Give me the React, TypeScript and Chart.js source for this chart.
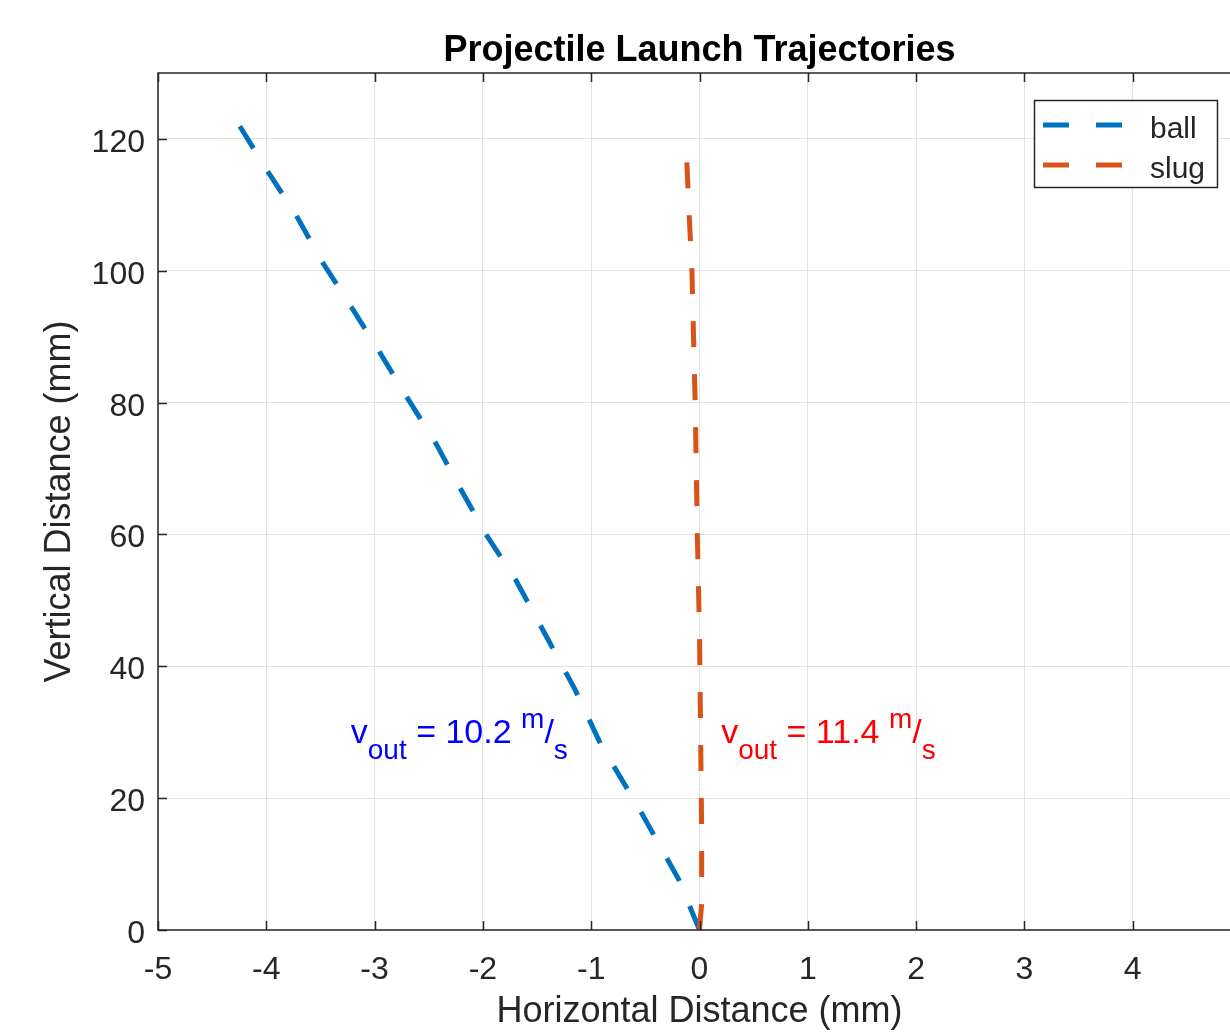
import React, { useEffect, useRef } from 'react';
import { Chart, registerables } from 'chart.js';

Chart.register(...registerables);

// ---- data ----
const ballX = [0, -0.19, -0.55, -0.91, -1.15, -1.40, -1.70, -1.97, -2.23, -2.43, -2.72, -2.97, -3.23, -3.49, -3.73, -4.00, -4.27];
const ballY = [0, 7.6, 18.2, 28.1, 36.5, 44.1, 53.2, 60.0, 67.6, 73.7, 81.3, 88.1, 94.9, 101.5, 108.6, 115.4, 122.6];
const slugX = [0, 0.02, 0.02, 0.01, 0.0, -0.02, -0.04, -0.07, -0.10, -0.12];
const slugY = [0, 4, 15, 30, 45, 60, 80, 100, 110, 117.7];

const seriesNames = ['ball', 'slug'];
const seriesColors = ['#0072BD', '#D95319'];

const xTickValues = [-5, -4, -3, -2, -1, 0, 1, 2, 3, 4, 5];
const yTickValues = [0, 20, 40, 60, 80, 100, 120];

const annotationX = [-3.22, 0.2];
const annotationY = [30, 30];
const annotationSpeed = ['10.2', '11.4'];
const annotationColors = ['#0000FF', '#FF0000'];

const titleText = 'Projectile Launch Trajectories';
const xLabel = 'Horizontal Distance (mm)';
const yLabel = 'Vertical Distance (mm)';

const FONT = '"Liberation Sans", Arial, Helvetica, sans-serif';
const W = 1300;
const H = 1032;
const AX = { left: 158, right: 1241, top: 73, bottom: 930 };
const AXIS_COLOR = '#262626';

function toPoints(xs: number[], ys: number[]) {
  return xs.map((x, i) => ({ x, y: ys[i] }));
}

export default function App() {
  const ref = useRef<HTMLCanvasElement>(null);

  useEffect(() => {
    const canvas = ref.current;
    if (!canvas) return;

    const overlay = {
      id: 'overlay',
      afterDraw(chart: any) {
        const ctx = chart.ctx as CanvasRenderingContext2D;
        const xs = chart.scales.x;
        const ys = chart.scales.y;
        const { left, right, top, bottom } = chart.chartArea;
        ctx.save();

        // tick marks (inward)
        ctx.strokeStyle = AXIS_COLOR;
        ctx.lineWidth = 1.5;
        const tl = 9;
        ctx.beginPath();
        xTickValues.forEach((v) => {
          const px = Math.round(xs.getPixelForValue(v)) + 0.5;
          ctx.moveTo(px, bottom);
          ctx.lineTo(px, bottom - tl);
          ctx.moveTo(px, top);
          ctx.lineTo(px, top + tl);
        });
        yTickValues.forEach((v) => {
          const py = Math.round(ys.getPixelForValue(v)) + 0.5;
          ctx.moveTo(left, py);
          ctx.lineTo(left + tl, py);
          ctx.moveTo(right, py);
          ctx.lineTo(right - tl, py);
        });
        ctx.stroke();

        // box
        ctx.beginPath();
        ctx.rect(left, top, right - left, bottom - top);
        ctx.stroke();

        // tick labels
        ctx.fillStyle = AXIS_COLOR;
        ctx.font = `32px ${FONT}`;
        ctx.textBaseline = 'alphabetic';
        ctx.textAlign = 'center';
        xTickValues.forEach((v) => {
          ctx.fillText(String(v), xs.getPixelForValue(v), 979);
        });
        ctx.textAlign = 'right';
        yTickValues.forEach((v) => {
          ctx.fillText(String(v), left - 13, ys.getPixelForValue(v) + 13);
        });

        // title
        ctx.fillStyle = '#000';
        ctx.font = `bold 36px ${FONT}`;
        ctx.textAlign = 'center';
        ctx.textBaseline = 'alphabetic';
        ctx.fillText(titleText, (left + right) / 2, 61);

        // axis labels
        ctx.fillStyle = AXIS_COLOR;
        ctx.font = `36px ${FONT}`;
        ctx.fillText(xLabel, (left + right) / 2, 1022);
        ctx.save();
        ctx.translate(70, (top + bottom) / 2);
        ctx.rotate(-Math.PI / 2);
        ctx.fillText(yLabel, 0, 0);
        ctx.restore();

        // annotations: v_out = N m/s
        annotationX.forEach((ax, i) => {
          const px = xs.getPixelForValue(ax);
          const py = ys.getPixelForValue(annotationY[i]) + 11;
          const parts: [string, number, number][] = [
            ['v', 34, 0],
            ['out', 28, 16],
            [' = ' + annotationSpeed[i] + ' ', 34, 0],
            ['m', 28, -15],
            ['/', 34, 0],
            ['s', 28, 16],
          ];
          let cx = px;
          ctx.fillStyle = annotationColors[i];
          ctx.textAlign = 'left';
          ctx.textBaseline = 'alphabetic';
          parts.forEach(([t, size, dy]) => {
            ctx.font = `${size}px ${FONT}`;
            ctx.fillText(t, cx, py + dy);
            cx += ctx.measureText(t).width;
          });
        });

        // legend
        const lx = 1034, ly = 100, lw = 183, lh = 87;
        ctx.fillStyle = '#fff';
        ctx.fillRect(lx, ly, lw, lh);
        ctx.strokeStyle = AXIS_COLOR;
        ctx.lineWidth = 1.5;
        ctx.strokeRect(lx + 0.5, ly + 0.5, lw, lh);
        const rows = [125, 165];
        seriesNames.forEach((name, i) => {
          ctx.strokeStyle = seriesColors[i];
          ctx.lineWidth = 5;
          ctx.lineCap = 'butt';
          ctx.beginPath();
          ctx.moveTo(1043, rows[i]);
          ctx.lineTo(1069, rows[i]);
          ctx.moveTo(1096, rows[i]);
          ctx.lineTo(1122, rows[i]);
          ctx.stroke();
          ctx.fillStyle = AXIS_COLOR;
          ctx.font = `30px ${FONT}`;
          ctx.textAlign = 'left';
          ctx.textBaseline = 'alphabetic';
          ctx.fillText(name, 1150, rows[i] + 13);
        });

        ctx.restore();
      },
    };

    const chart = new Chart(canvas, {
      type: 'scatter',
      data: {
        datasets: [
          {
            label: seriesNames[0],
            data: toPoints(ballX, ballY),
            showLine: true,
            borderColor: seriesColors[0],
            backgroundColor: seriesColors[0],
            borderWidth: 5,
            borderDash: [26, 27],
            borderCapStyle: 'butt',
            pointRadius: 0,
            tension: 0,
            order: 2,
          },
          {
            label: seriesNames[1],
            data: toPoints(slugX, slugY),
            showLine: true,
            borderColor: seriesColors[1],
            backgroundColor: seriesColors[1],
            borderWidth: 5,
            borderDash: [26, 27],
            borderCapStyle: 'butt',
            pointRadius: 0,
            tension: 0,
            order: 1,
          },
        ],
      },
      options: {
        responsive: false,
        animation: false,
        devicePixelRatio: 1,
        layout: { padding: { top: AX.top, right: W - AX.right, left: 0, bottom: 0 } },
        plugins: {
          legend: { display: false },
          title: { display: false },
          tooltip: { enabled: false },
        },
        scales: {
          x: {
            type: 'linear',
            min: -5,
            max: 5,
            afterFit: (s: any) => { s.height = H - AX.bottom; },
            afterBuildTicks: (s: any) => { s.ticks = xTickValues.map((v) => ({ value: v })); },
            ticks: { display: false, autoSkip: false },
            grid: { color: '#e2e2e2', lineWidth: 1, drawTicks: false },
            border: { display: false },
          },
          y: {
            type: 'linear',
            min: 0,
            max: 130,
            afterFit: (s: any) => { s.width = AX.left; },
            afterBuildTicks: (s: any) => { s.ticks = yTickValues.map((v) => ({ value: v })); },
            ticks: { display: false, autoSkip: false },
            grid: { color: '#e2e2e2', lineWidth: 1, drawTicks: false },
            border: { display: false },
          },
        },
      },
      plugins: [overlay],
    } as any);

    return () => chart.destroy();
  }, []);

  return (
    <div
      style={{
        position: 'absolute',
        left: 0,
        top: 0,
        width: 1230,
        height: 1032,
        overflow: 'hidden',
        background: '#fff',
      }}
    >
      <canvas ref={ref} width={W} height={H} style={{ display: 'block', width: W, height: H }} />
    </div>
  );
}
